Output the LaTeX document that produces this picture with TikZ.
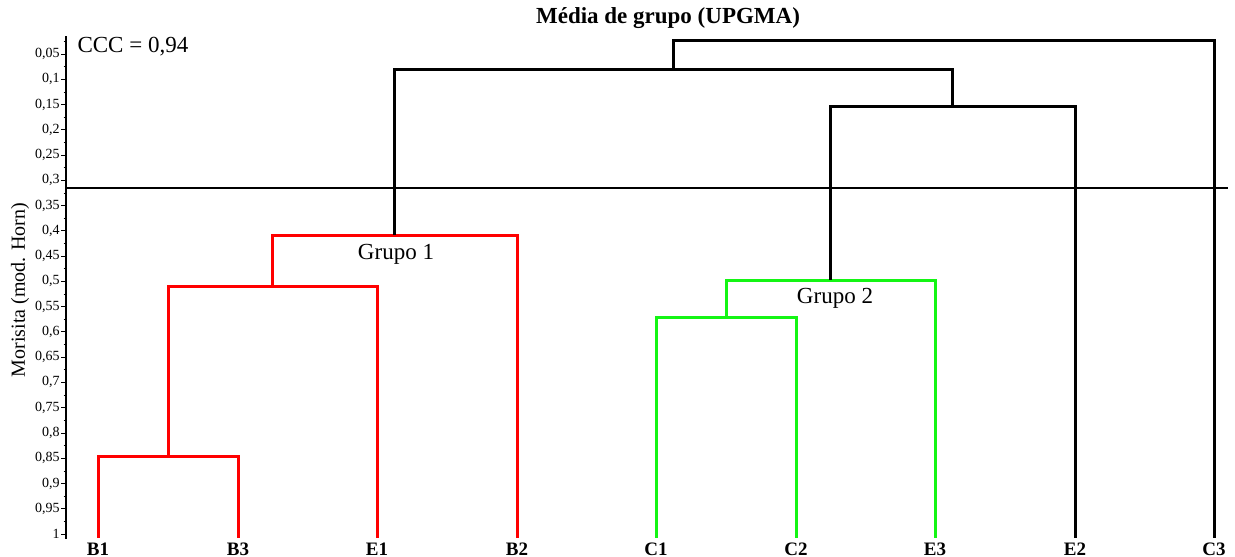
\documentclass[tikz,border=0pt]{standalone}
\usepackage{fontspec}
\setmainfont{Liberation Serif}
\usetikzlibrary{positioning,calc}

\begin{document}
\begin{tikzpicture}
  [x=1pt,y=-1pt,
   leafN/.style={inner sep=1pt,outer sep=4pt,font=\fontsize{19}{22}\selectfont\bfseries},
   tickN/.style={anchor=east,inner sep=1pt,font=\fontsize{14}{16}\selectfont},
   txtN/.style={font=\fontsize{23}{27}\selectfont},
   redB/.style={draw=red,line width=3pt},
   greenB/.style={draw={rgb,255:red,20;green,245;blue,20},line width=3pt},
   blackB/.style={draw=black,line width=3pt}]

  \useasboundingbox (0,0) rectangle (1235,557);

  % axis with ticks
  \draw [line width=2pt] (66,36) -- (66,539);
  \foreach \t [count=\i] in {05,1,15,2,25,3,35,4,45,5,55,6,65,7,75,8,85,9,95}
    \draw [line width=0.8pt] (61,{54+(\i-1)*25.26}) -- (66,{54+(\i-1)*25.26})
      node [tickN,at start] {0,\t};
  \draw [line width=0.8pt] (61,534) -- (66,534) node [tickN,at start] {1};
  \foreach \i in {0,...,19}
    \draw [line width=0.6pt] (63.5,{41.4+\i*25.26}) -- (66,{41.4+\i*25.26});

  % texts
  \node at (668,18)  [txtN,font=\fontsize{23}{27}\selectfont\bfseries] (title) {Média de grupo (UPGMA)};
  \node at (74,47)   [txtN,anchor=west] (ccc) {CCC = 0,94};
  \node at (20,290)  [txtN,font=\fontsize{20}{24}\selectfont,rotate=90] (ylab) {Morisita (mod. Horn)};
  \node at (396,254) [txtN] (g1lab) {Grupo 1};
  \node at (835,298) [txtN] (g2lab) {Grupo 2};

  % leaves
  \node at (98,549)   [leafN] (B1) {B1};
  \node at (238,549)  [leafN] (B3) {B3};
  \node at (377,549)  [leafN] (E1) {E1};
  \node at (517,549)  [leafN] (B2) {B2};
  \node at (656,549)  [leafN] (C1) {C1};
  \node at (796,549)  [leafN] (C2) {C2};
  \node at (935,549)  [leafN] (E3) {E3};
  \node at (1075,549) [leafN] (E2) {E2};
  \node at (1214,549) [leafN] (C3) {C3};

  % merge points
  \coordinate (mBB)  at (168,456);
  \coordinate (mBE)  at (272.5,286);
  \coordinate (g1)   at (394.75,235);
  \coordinate (mCC)  at (726,317);
  \coordinate (g2)   at (830.5,280);
  \coordinate (mE2)  at (952.75,106);
  \coordinate (mTop) at (673.9,69);
  \coordinate (root) at (943.9,40);

  % cut line
  \coordinate (cutL) at (66,188);
  \coordinate (cutR) at (1228,188);
  \draw [line width=1.2pt] (cutL) -- (cutR);

  % Grupo 1
  \draw [redB] (B1.north) |- (mBB) -| (B3.north);
  \draw [redB] (mBB) |- (mBE) -| (E1.north);
  \draw [redB] (mBE) |- (g1) -| (B2.north);

  % Grupo 2
  \draw [greenB] (C1.north) |- (mCC) -| (C2.north);
  \draw [greenB] (mCC) |- (g2) -| (E3.north);

  % upper part
  \draw [blackB] (g2) |- (mE2) -| (E2.north);
  \draw [blackB] (g1) |- (mTop) -| (mE2);
  \draw [blackB] (mTop) |- (root) -| (C3.north);
\end{tikzpicture}
\end{document}
